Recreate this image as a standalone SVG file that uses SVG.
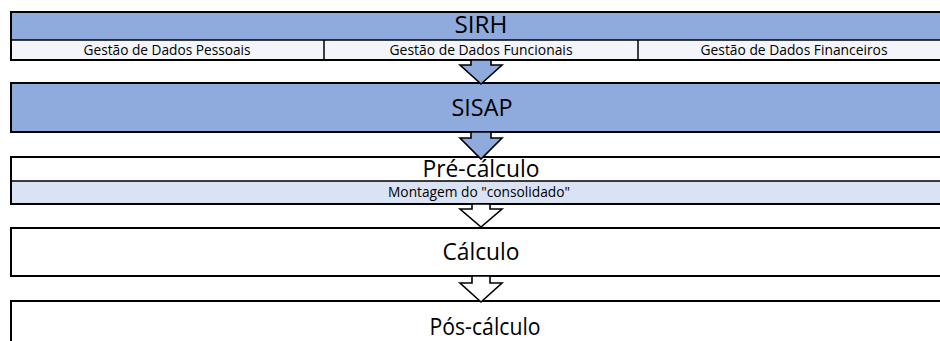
<svg xmlns="http://www.w3.org/2000/svg" width="940" height="341" viewBox="0 0 940 341">
<style>
.box{stroke:#000;stroke-width:2}
.div{stroke:#000;stroke-width:1.5}
.blue{fill:#8FAADC}
.pale{fill:#F3F5FB}
.light{fill:#DAE3F3}
.white{fill:#FFFFFF}
.big{font-family:"Open Sans","Noto Sans",sans-serif;font-size:23px;fill:#000;text-anchor:middle}
.small{font-family:"Open Sans","Noto Sans",sans-serif;font-size:14.5px;fill:#000;text-anchor:middle}
.arrow{stroke:#000;stroke-width:1.6;stroke-linejoin:miter}
</style>
<rect width="940" height="341" fill="#FFFFFF"/>
<g id="sirh">
  <rect class="box blue" x="11" y="12" width="942" height="48"/>
  <rect class="div pale" x="11" y="40" width="942" height="20"/>
  <line class="div" x1="324" y1="40" x2="324" y2="60"/>
  <line class="div" x1="638" y1="40" x2="638" y2="60"/>
  <rect x="11" y="12" width="942" height="48" fill="none" class="box"/>
  <text class="big" x="481" y="33" textLength="53" lengthAdjust="spacingAndGlyphs">SIRH</text>
  <text class="small" x="167" y="55" textLength="167" lengthAdjust="spacingAndGlyphs">Gestão de Dados Pessoais</text>
  <text class="small" x="481" y="55" textLength="183" lengthAdjust="spacingAndGlyphs">Gestão de Dados Funcionais</text>
  <text class="small" x="794" y="55" textLength="187" lengthAdjust="spacingAndGlyphs">Gestão de Dados Financeiros</text>
</g>
<g id="sisap">
  <rect class="box blue" x="11" y="83" width="942" height="49"/>
  <text class="big" x="482" y="116" textLength="61" lengthAdjust="spacingAndGlyphs">SISAP</text>
</g>
<g id="pre-calculo">
  <rect class="box white" x="11" y="157" width="942" height="47"/>
  <rect class="div light" x="11" y="181" width="942" height="23"/>
  <rect x="11" y="157" width="942" height="47" fill="none" class="box"/>
  <text class="big" x="481" y="177" textLength="117" lengthAdjust="spacingAndGlyphs">Pré-cálculo</text>
  <text class="small" x="479" y="197" textLength="182" lengthAdjust="spacingAndGlyphs">Montagem do "consolidado"</text>
</g>
<g id="calculo">
  <rect class="box white" x="11" y="228" width="942" height="48"/>
  <text class="big" x="481" y="260" textLength="77" lengthAdjust="spacingAndGlyphs">Cálculo</text>
</g>
<g id="pos-calculo">
  <rect class="box white" x="11" y="301" width="942" height="60"/>
  <text class="big" x="485" y="335" textLength="111" lengthAdjust="spacingAndGlyphs">Pós-cálculo</text>
</g>
<g id="connectors">
  <polygon class="arrow blue" points="471,60 491,60 491,65 502,65 481,84 460,65 471,65"/>
  <polygon class="arrow blue" points="471,132 491,132 491,138 502,138 481,159 460,138 471,138"/>
  <polygon class="arrow white" points="472,204 490,204 490,209 502,209 481,227 460,209 472,209"/>
  <polygon class="arrow white" points="472,276 490,276 490,283 502,283 481,302 460,283 472,283"/>
</g>
</svg>
